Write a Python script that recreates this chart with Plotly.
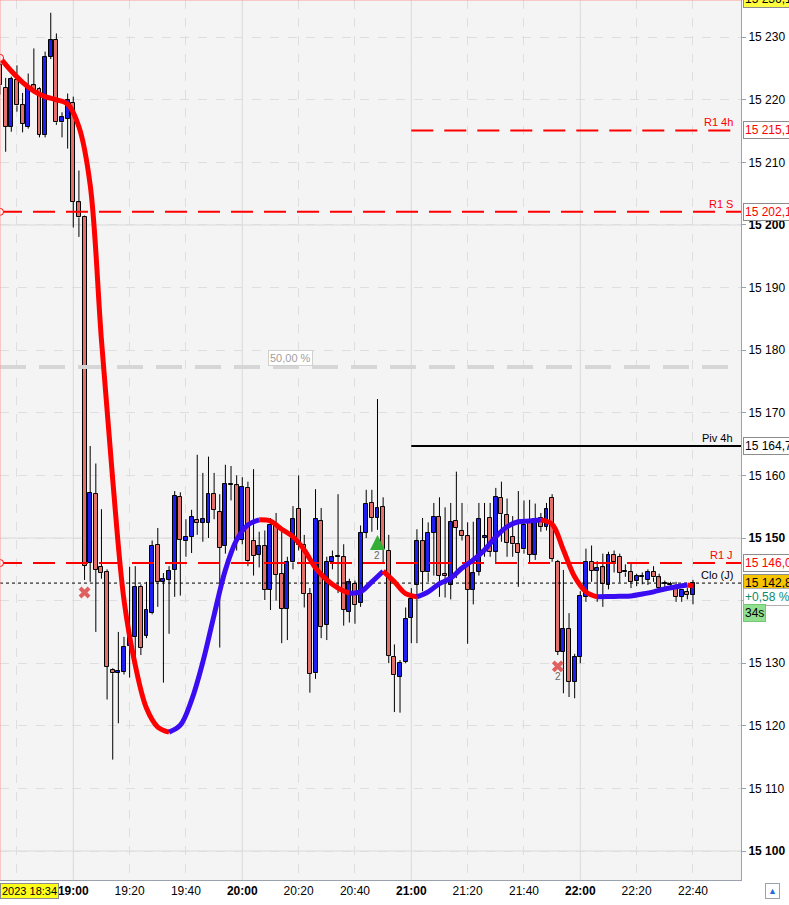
import plotly.graph_objects as go
import pandas as pd

# ---------------- data ----------------
candle_open = [15225.5, 15221.9, 15215.7, 15223.2, 15219.2, 15215.7, 15222.3, 15221.8, 15214.4, 15226.9,
               15229.6, 15216.4, 15217.0, 15219.5, 15203.6, 15201.3, 15146.0, 15157.1, 15145.4, 15144.6,
               15128.9, 15128.5, 15128.6, 15132.8, 15134.2, 15142.2, 15134.4, 15138.0, 15148.9, 15143.0,
               15143.3, 15144.9, 15156.6, 15149.5, 15150.2, 15152.9, 15152.4, 15152.4, 15157.1, 15154.2,
               15148.7, 15158.6, 15158.4, 15149.7, 15158.0, 15149.5, 15147.3, 15148.7, 15141.7, 15152.1,
               15144.3, 15138.7, 15146.1, 15154.7, 15148.9, 15141.1, 15128.4, 15152.7, 15136.1, 15146.2,
               15147.0, 15147.0, 15138.2, 15142.7, 15139.6, 15150.8, 15155.6, 15153.2, 15155.0, 15148.0,
               15131.0, 15127.8, 15130.2, 15137.3, 15142.5, 15149.5, 15144.5, 15150.8, 15153.4, 15144.2,
               15142.5, 15152.7, 15151.1, 15150.3, 15141.7, 15144.6, 15150.0, 15153.2, 15147.8, 15156.4,
               15153.7, 15150.2, 15149.0, 15148.2, 15152.4, 15147.3, 15153.2, 15151.8, 15156.4, 15146.2,
               15131.8, 15135.5, 15127.0, 15131.0, 15140.6, 15146.2, 15144.8, 15145.3, 15142.5, 15147.3,
               15147.0, 15144.5, 15144.6, 15143.1, 15143.8, 15143.3, 15144.6, 15143.7, 15142.7, 15142.5,
               15142.0, 15140.6, 15141.4, 15140.9]
candle_high = [15226.4, 15223.5, 15223.7, 15225.5, 15221.1, 15224.2, 15228.2, 15222.0, 15227.7, 15233.9,
               15230.6, 15218.0, 15221.0, 15220.5, 15208.7, 15201.5, 15164.7, 15161.9, 15154.6, 15145.0,
               15129.2, 15135.0, 15134.2, 15145.4, 15145.5, 15142.6, 15143.0, 15149.6, 15151.6, 15144.4,
               15145.5, 15157.5, 15157.3, 15153.0, 15154.5, 15163.3, 15160.4, 15163.0, 15160.4, 15157.0,
               15161.7, 15161.5, 15160.0, 15159.7, 15159.0, 15161.0, 15151.0, 15151.2, 15153.2, 15154.0,
               15151.0, 15147.0, 15155.1, 15160.0, 15150.5, 15142.0, 15157.8, 15154.8, 15147.0, 15148.0,
               15157.0, 15149.0, 15143.5, 15143.2, 15152.0, 15157.7, 15157.7, 15172.2, 15156.5, 15150.5,
               15133.0, 15130.5, 15138.9, 15142.0, 15151.4, 15153.2, 15152.5, 15155.6, 15156.5, 15154.9,
               15155.6, 15160.6, 15155.6, 15152.5, 15152.6, 15155.6, 15155.6, 15155.6, 15158.0, 15159.0,
               15156.3, 15153.5, 15157.5, 15156.0, 15156.1, 15155.5, 15154.0, 15155.6, 15157.0, 15146.5,
               15144.9, 15138.0, 15131.5, 15141.5, 15148.3, 15148.8, 15146.3, 15147.5, 15147.8, 15148.0,
               15147.5, 15145.8, 15146.0, 15144.3, 15144.5, 15145.0, 15145.5, 15144.3, 15143.2, 15143.0,
               15143.0, 15141.8, 15142.0, 15143.3]
candle_low = [15220.8, 15211.7, 15214.9, 15218.1, 15214.8, 15215.4, 15221.3, 15214.0, 15214.0, 15226.5,
              15216.0, 15214.0, 15212.2, 15199.6, 15198.1, 15143.3, 15143.0, 15135.0, 15143.5, 15124.2,
              15114.6, 15120.4, 15128.2, 15127.7, 15131.0, 15131.3, 15134.0, 15137.8, 15139.0, 15126.9,
              15134.7, 15140.6, 15140.8, 15147.0, 15147.6, 15150.5, 15149.4, 15150.0, 15153.0, 15132.5,
              15147.5, 15156.0, 15148.0, 15149.0, 15145.5, 15144.0, 15145.3, 15140.1, 15138.5, 15140.0,
              15133.2, 15133.7, 15145.0, 15148.0, 15138.9, 15125.3, 15127.5, 15134.0, 15133.7, 15145.0,
              15141.2, 15136.0, 15136.5, 15136.3, 15139.0, 15150.0, 15151.0, 15151.3, 15146.0, 15130.0,
              15122.2, 15122.1, 15130.0, 15133.2, 15133.2, 15141.5, 15143.0, 15144.0, 15140.6, 15140.5,
              15140.2, 15143.6, 15149.6, 15133.1, 15139.4, 15144.0, 15147.0, 15147.0, 15146.0, 15149.4,
              15147.0, 15147.0, 15142.2, 15147.5, 15146.0, 15146.5, 15151.0, 15151.2, 15146.2, 15131.3,
              15125.2, 15124.6, 15124.4, 15130.0, 15139.8, 15143.0, 15139.8, 15139.0, 15141.8, 15144.5,
              15142.9, 15143.8, 15142.0, 15142.3, 15142.6, 15142.5, 15143.0, 15141.5, 15141.9, 15141.8,
              15139.8, 15139.8, 15140.2, 15139.4]
candle_close = [15222.3, 15215.7, 15223.4, 15219.1, 15216.2, 15222.1, 15221.6, 15214.4, 15226.9, 15229.5,
                15216.4, 15217.2, 15220.0, 15203.7, 15201.2, 15145.6, 15157.2, 15144.9, 15144.4, 15129.4,
                15128.4, 15128.7, 15132.6, 15134.2, 15142.2, 15132.5, 15138.5, 15148.7, 15142.9, 15143.5,
                15144.7, 15156.7, 15149.7, 15150.2, 15153.4, 15152.4, 15153.0, 15157.1, 15154.5, 15148.4,
                15158.6, 15158.5, 15149.7, 15158.2, 15146.3, 15147.1, 15148.7, 15141.7, 15152.1, 15144.1,
                15138.7, 15146.1, 15153.0, 15148.9, 15141.1, 15128.3, 15153.0, 15135.8, 15146.2, 15146.9,
                15147.2, 15138.5, 15142.9, 15139.3, 15150.8, 15155.5, 15153.2, 15154.8, 15148.2, 15131.2,
                15128.1, 15130.1, 15137.1, 15140.3, 15149.5, 15144.6, 15150.8, 15153.4, 15144.0, 15144.0,
                15152.6, 15151.6, 15150.3, 15141.7, 15144.4, 15153.0, 15150.3, 15147.8, 15156.6, 15153.8,
                15149.2, 15149.0, 15147.6, 15152.1, 15147.3, 15153.0, 15151.8, 15154.7, 15146.7, 15131.8,
                15135.5, 15127.0, 15131.0, 15140.8, 15146.2, 15144.8, 15145.2, 15142.7, 15147.3, 15146.2,
                15144.4, 15144.7, 15143.0, 15144.0, 15143.9, 15144.5, 15143.7, 15142.0, 15142.8, 15142.6,
                15140.6, 15141.7, 15140.9, 15142.8]

# smoothed trend line (candle index, value)
trend_index = [0, 2, 4, 6, 8, 10, 12, 14, 16, 18, 20, 22, 24, 26, 28, 30, 32, 34, 36, 38, 40, 42, 44, 46,
               48, 50, 52, 54, 56, 58, 60, 62, 64, 66, 68, 70, 72, 74, 76, 78, 80, 82, 84, 86, 88, 90, 92,
               94, 96, 98, 100, 102, 104, 106, 108, 110, 112, 114, 116, 118, 120, 122, 123]
trend_value = [15226.7, 15224.6, 15222.8, 15221.4, 15220.5, 15220.0, 15219.3, 15215.7, 15206.4, 15181.6,
               15159.3, 15140.1, 15129.7, 15122.8, 15119.8, 15119.0, 15120.1, 15124.1, 15130.2, 15137.7,
               15144.9, 15149.7, 15152.1, 15152.9, 15152.7, 15151.4, 15150.2, 15148.1, 15145.2, 15143.3,
               15142.0, 15141.2, 15141.4, 15143.0, 15144.7, 15143.0, 15141.1, 15140.6, 15141.4, 15142.7,
               15143.6, 15145.2, 15146.5, 15148.1, 15150.2, 15151.8, 15152.6, 15152.7, 15152.9, 15152.2,
               15148.1, 15143.8, 15141.4, 15140.6, 15140.65, 15140.7, 15140.75, 15141.05, 15141.4, 15141.85,
               15142.2, 15142.5, 15142.35]

level_names = ["R1 4h", "R1 S", "Piv 4h", "R1 J", "Clo (J)"]
level_values = [15215.1, 15202.1, 15164.7, 15146.0, 15142.8]
level_from = ["21:00", "18:34", "21:00", "18:34", "18:34"]
fib_label = "50,00 %"
fib_value = 15177.3
fib_time = "20:17"
day_high = 15236.1
change_text = "+0,58 %"
timer_text = "34s"
date_text = "2023 18:34"

sell_signals_time = ["19:04", "21:52"]
sell_signals_value = [15141.3, 15129.5]
sell_signals_text = ["", "2"]
buy_signals_time = ["20:48"]
buy_signals_value = [15149.2]
buy_signals_text = ["2"]

y_ticks = list(range(15100, 15240, 10))
x_tick_times = ["18:40", "19:00", "19:20", "19:40", "20:00", "20:20", "20:40", "21:00",
                "21:20", "21:40", "22:00", "22:20", "22:40"]

# ---------------- helpers ----------------
DAY = "2023-06-01 "
start = pd.Timestamp(DAY + "18:34")
times = [start + pd.Timedelta(minutes=2 * i) for i in range(len(candle_open))]
x_range = [pd.Timestamp(DAY + "18:33:59"), pd.Timestamp(DAY + "22:57:03")]
y_range = [15095.37, 15235.94]


def T(hm):
    return pd.Timestamp(DAY + hm)


def fmt(v):
    return f"{v:,.1f}".replace(",", " ").replace(".", ",")


UP = "#1e1ef0"
DOWN = "#e4706c"
RED = "#ff0000"
BLUE = "#3a0cf2"
FONT = "Liberation Sans, Arial, sans-serif"

fig = go.Figure()

# wicks (split above and below the body)
wx, wy = [], []
for t, o, h, l, c in zip(times, candle_open, candle_high, candle_low, candle_close):
    top, bot = max(o, c), min(o, c)
    wx += [t, t, None, t, t, None]
    wy += [h, top, None, bot, l, None]
fig.add_trace(go.Scatter(x=wx, y=wy, mode="lines", line=dict(color="black", width=1),
                         hoverinfo="skip", showlegend=False))

# bodies
bases = [min(o, c) for o, c in zip(candle_open, candle_close)]
heights = [max(abs(c - o), 0.12) for o, c in zip(candle_open, candle_close)]
colors = [UP if c > o else DOWN for o, c in zip(candle_open, candle_close)]
fig.add_trace(go.Bar(x=times, y=heights, base=bases, width=2 * 60000 * 0.7,
                     marker=dict(color=colors, line=dict(color="black", width=1)),
                     showlegend=False, hoverinfo="skip"))

# 50% level
fig.add_trace(go.Scatter(x=x_range, y=[fib_value, fib_value], mode="lines",
                         line=dict(color="#d6d6d6", width=4, dash="26px,13px"),
                         hoverinfo="skip", showlegend=False))

# levels
level_styles = {
    "R1 4h": dict(color=RED, width=2, dash="22px,11px"),
    "R1 S": dict(color=RED, width=2, dash="22px,11px"),
    "Piv 4h": dict(color="black", width=2),
    "R1 J": dict(color=RED, width=2, dash="22px,11px"),
    "Clo (J)": dict(color="black", width=1, dash="3px,3px"),
}
for name, val, frm in zip(level_names, level_values, level_from):
    x0 = x_range[0] if frm == "18:34" else T(frm)
    fig.add_trace(go.Scatter(x=[x0, x_range[1]], y=[val, val], mode="lines",
                             line=level_styles[name], hoverinfo="skip", showlegend=False))

# trend line coloured by direction
tt = [times[i] for i in trend_index]
seg_start = 0
for k in range(1, len(trend_value)):
    up = trend_value[k] > trend_value[k - 1]
    last = k == len(trend_value) - 1
    nxt_up = (trend_value[k + 1] > trend_value[k]) if not last else up
    if last or nxt_up != up:
        fig.add_trace(go.Scatter(x=tt[seg_start:k + 1], y=trend_value[seg_start:k + 1], mode="lines",
                                 line=dict(color=BLUE if up else RED, width=5, shape="spline"),
                                 hoverinfo="skip", showlegend=False))
        seg_start = k

# sell signals
fig.add_trace(go.Scatter(x=[T(t) for t in sell_signals_time], y=sell_signals_value,
                         mode="markers+text", text=sell_signals_text, textposition="bottom center",
                         textfont=dict(size=10, color="#666666", family=FONT),
                         marker=dict(symbol="x-thin", size=9, color="#e06060",
                                     line=dict(width=4, color="#e06060")),
                         hoverinfo="skip", showlegend=False))

# left-edge circles
fig.add_trace(go.Scatter(x=[x_range[0]] * 3, y=[trend_value[0], level_values[1], level_values[3]],
                         mode="markers", marker=dict(symbol="circle", size=7, color="white",
                                                     line=dict(color=RED, width=1)),
                         cliponaxis=False, hoverinfo="skip", showlegend=False))

# grid shapes (solid majors)
shapes = []
for hm in ["19:00", "20:00", "21:00", "22:00"]:
    shapes.append(dict(type="line", xref="x", yref="paper", x0=T(hm), x1=T(hm), y0=0, y1=1,
                       line=dict(color="#dadada", width=1), layer="below"))
for v in [15100, 15150, 15200]:
    shapes.append(dict(type="line", xref="paper", yref="y", x0=0, x1=1, y0=v, y1=v,
                       line=dict(color="#dadada", width=1), layer="below"))
# plot frame
shapes.append(dict(type="line", xref="paper", yref="paper", x0=0, x1=1, y0=1, y1=1,
                   line=dict(color="#ff9a9a", width=1)))
shapes.append(dict(type="line", xref="paper", yref="paper", x0=0, x1=0, y0=0, y1=1,
                   line=dict(color="#ff9a9a", width=1)))

annotations = []
# buy arrow + count
for t, v, s in zip(buy_signals_time, buy_signals_value, buy_signals_text):
    annotations.append(dict(xref="x", yref="y", x=T(t), y=v, ax=0, ay=14, yshift=8, text="",
                            showarrow=True, arrowhead=2, arrowsize=0.75, arrowwidth=4,
                            arrowcolor="#33b033"))
    annotations.append(dict(xref="x", yref="y", x=T(t), y=v, text=s, showarrow=False,
                            yshift=-12, font=dict(size=10, color="#666666", family=FONT)))
# level labels
label_colors = {"R1 4h": RED, "R1 S": RED, "Piv 4h": "black", "R1 J": RED, "Clo (J)": "black"}
for name, val in zip(level_names, level_values):
    annotations.append(dict(xref="paper", yref="y", x=1, y=val, text=name, showarrow=False,
                            xanchor="right", yanchor="bottom", xshift=-6, yshift=0,
                            font=dict(size=11, color=label_colors[name], family=FONT)))
    if name == "Clo (J)":
        bg, fc = "#f6c500", "black"
    else:
        bg, fc = "white", label_colors[name]
    annotations.append(dict(xref="paper", yref="y", x=1, y=val, text=fmt(val), showarrow=False,
                            xanchor="left", yanchor="middle", xshift=2,
                            bgcolor=bg, bordercolor="#8c8c8c", borderwidth=1, borderpad=1,
                            font=dict(size=12, color=fc, family=FONT)))
annotations.append(dict(xref="paper", yref="y", x=1, y=15140.6, text=change_text, showarrow=False,
                        xanchor="left", yanchor="middle", xshift=2, bgcolor="white",
                        bordercolor="#b0b0b0", borderwidth=1, borderpad=1,
                        font=dict(size=12, color="#0b8a6e", family=FONT)))
annotations.append(dict(xref="paper", yref="y", x=1, y=15138.0, text=timer_text, showarrow=False,
                        xanchor="left", yanchor="middle", xshift=2, bgcolor="#90e090",
                        bordercolor="#70c870", borderwidth=1, borderpad=1,
                        font=dict(size=12, color="black", family=FONT)))
annotations.append(dict(xref="paper", yref="paper", x=1, y=1, text=fmt(day_high), showarrow=False,
                        xanchor="left", yanchor="middle", xshift=2, yshift=1, bgcolor="#ffff40",
                        bordercolor="#8c8c8c", borderwidth=1, borderpad=1,
                        font=dict(size=12, color="black", family=FONT)))
annotations.append(dict(xref="x", yref="y", x=T(fib_time), y=fib_value, text=fib_label,
                        showarrow=False, xanchor="center", yanchor="bottom", yshift=1,
                        bgcolor="white", bordercolor="#d0d0d0", borderwidth=1, borderpad=1,
                        font=dict(size=11, color="#a0a0a0", family=FONT)))
annotations.append(dict(xref="paper", yref="paper", x=0, y=-0.0125, text=date_text, showarrow=False,
                        xanchor="left", yanchor="middle", bgcolor="#ffff1a", bordercolor="#8c8c8c",
                        borderwidth=1, borderpad=1, font=dict(size=11, color="black", family=FONT)))
annotations.append(dict(xref="paper", yref="paper", x=1, y=-0.0125, text="▲", showarrow=False,
                        xanchor="left", yanchor="middle", xshift=24, bgcolor="white",
                        bordercolor="#9aa3ad", borderwidth=1, borderpad=2,
                        font=dict(size=9, color="#1e6fd8", family=FONT)))

y_text = []
for v in y_ticks:
    s = fmt(v)[:-2]
    if v == 15140:
        y_text.append("")
    elif v % 50 == 0:
        y_text.append(f"<b>{s}</b>")
    else:
        y_text.append(s)

x_text = []
for hm in x_tick_times:
    if hm == "18:40":
        x_text.append("")
    elif hm.endswith(":00"):
        x_text.append(f"<b>{hm}</b>")
    else:
        x_text.append(hm)

fig.update_layout(
    width=789, height=905,
    margin=dict(l=0, r=48, t=0, b=25),
    paper_bgcolor="white", plot_bgcolor="#f4f4f4",
    showlegend=False, bargap=0,
    shapes=shapes, annotations=annotations,
    font=dict(family=FONT, size=12, color="black"),
    xaxis=dict(type="date", range=x_range, tickvals=[T(t) for t in x_tick_times], ticktext=x_text,
               showgrid=True, gridcolor="#dedede", griddash="dash", gridwidth=1,
               showline=True, linecolor="#9aa3ad", ticks="", zeroline=False,
               tickfont=dict(size=12, family=FONT, color="black"), fixedrange=True),
    yaxis=dict(side="right", range=y_range, tickvals=y_ticks, ticktext=y_text,
               showgrid=True, gridcolor="#dedede", griddash="dash", gridwidth=1,
               showline=True, linecolor="#9aa3ad", ticks="outside", ticklen=4, tickcolor="#9aa3ad",
               zeroline=False, tickfont=dict(size=12, family=FONT, color="black"), fixedrange=True),
)

fig.write_html("out.html", config={"displayModeBar": False},
               post_script="document.body.style.margin='0';document.body.style.overflow='hidden';")
